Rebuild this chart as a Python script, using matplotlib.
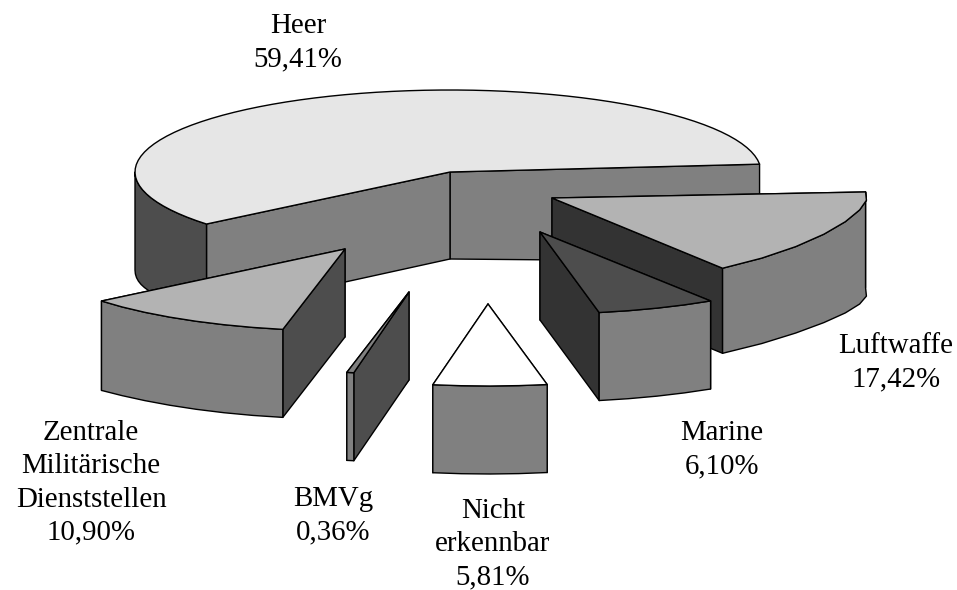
#!/usr/bin/python3

import numpy as np
import matplotlib
matplotlib.use('Agg')
import matplotlib.pyplot as plt
from matplotlib.patches import Polygon

names = ['Heer', 'Zentrale\nMilitärische\nDienststellen', 'BMVg', 'Nicht\nerkennbar', 'Marine', 'Luftwaffe']
shares = [59.41, 10.90, 0.36, 5.81, 6.10, 17.42]
share_text = ['59,41%', '10,90%', '0,36%', '5,81%', '6,10%', '17,42%']

# apex of each exploded slice, in pixels of the 957x590 picture
apex = [(450, 172), (345, 249), (409, 292), (488, 304), (540, 232), (552, 198)]
top_color = ['#e6e6e6', '#b3b3b3', '#808080', '#ffffff', '#4d4d4d', '#b3b3b3']
wall_color = ['#4d4d4d', '#808080', '#808080', '#808080', '#808080', '#808080']
cut_color = ['#808080', '#4d4d4d', '#4d4d4d', '#808080', '#333333', '#333333']
label_pos = [(298, 43), (91, 483), (333, 516), (493, 544), (722, 450), (896, 363)]
draw_order = [0, 5, 4, 1, 2, 3]

START = 5.5
STEP = [3.0, 6.0, 6.0, 6.0, 6.0, 9.0]
RX = 315.0
RX_RIGHT = [311.0, 315.0, 315.0, 315.0, 315.0, 315.0]
RY_BACK = [82.0, 82.0, 82.0, 82.0, 82.0, 63.0]
RY_FRONT = [82.0, 82.0, 82.0, 82.0, 82.0, 88.0]
FRONT_POW = [1.0, 1.0, 1.0, 1.0, 1.0, 1.3]
DEPTH = [87.0, 88.0, 88.0, 88.0, 88.0, 85.0]


def rim(i, t):
    t = np.radians(t)
    s = np.sin(t)
    rx = np.where(np.cos(t) > 0, RX_RIGHT[i], RX)
    dy = np.where(s > 0, RY_BACK[i] * s, -RY_FRONT[i] * np.abs(s) ** FRONT_POW[i])
    return np.column_stack([apex[i][0] + rx * np.cos(t), apex[i][1] - dy])


def drop(i, t):
    # the side walls look a bit taller towards the far left and right
    extra = 11 * np.abs(np.cos(np.radians(t))) ** 8
    return np.column_stack([np.zeros_like(extra), DEPTH[i] + extra])


def samples(i, a0, a1):
    # the arcs are coarse chords, as in the original
    n = max(2, int(np.ceil((a1 - a0) / STEP[i])))
    return np.linspace(a0, a1, n + 1)


def draw_slice(ax, i, a0, a1):
    c = np.array(apex[i], dtype=float)
    base = c + [0, DEPTH[i]]
    kw = dict(edgecolor='black', linewidth=1.0, joinstyle='round')

    # cut faces, the one further back first
    faces = []
    for a in (a0, a1):
        t = np.array([a])
        p = rim(i, t)[0]
        faces.append((p, p + drop(i, t)[0]))
    faces.sort(key=lambda f: f[0][1])
    for p, q in faces:
        ax.add_patch(Polygon([p, c, base, q], facecolor=cut_color[i], **kw))

    # outer wall, only where the rim faces the viewer
    w0, w1 = max(a0, 180), a1
    if w1 > 360 and i != 5:
        w1 = 360
    if w1 > w0:
        t = samples(i, w0, w1)
        arc = rim(i, t)
        ax.add_patch(Polygon(np.vstack([arc, (arc + drop(i, t))[::-1]]), facecolor=wall_color[i], **kw))

    # top
    arc = rim(i, samples(i, a0, a1))
    ax.add_patch(Polygon(np.vstack([[c], arc]), facecolor=top_color[i], **kw))


def main():
    fig = plt.figure(figsize=(9.57, 5.90), dpi=100)
    ax = fig.add_axes([0, 0, 1, 1])
    ax.set_xlim(0, 957)
    ax.set_ylim(590, 0)
    ax.axis('off')

    edges = START + np.cumsum([0] + shares) * 3.6
    for i in draw_order:
        draw_slice(ax, i, edges[i], edges[i + 1])

    for i, name in enumerate(names):
        ax.text(label_pos[i][0], label_pos[i][1], name + '\n' + share_text[i],
                ha='center', va='center', multialignment='center',
                family='Liberation Serif', fontsize=20.8, linespacing=1.36, color='black')

    fig.savefig('out.png', dpi=100, facecolor='white')


if __name__ == "__main__":
    main()
